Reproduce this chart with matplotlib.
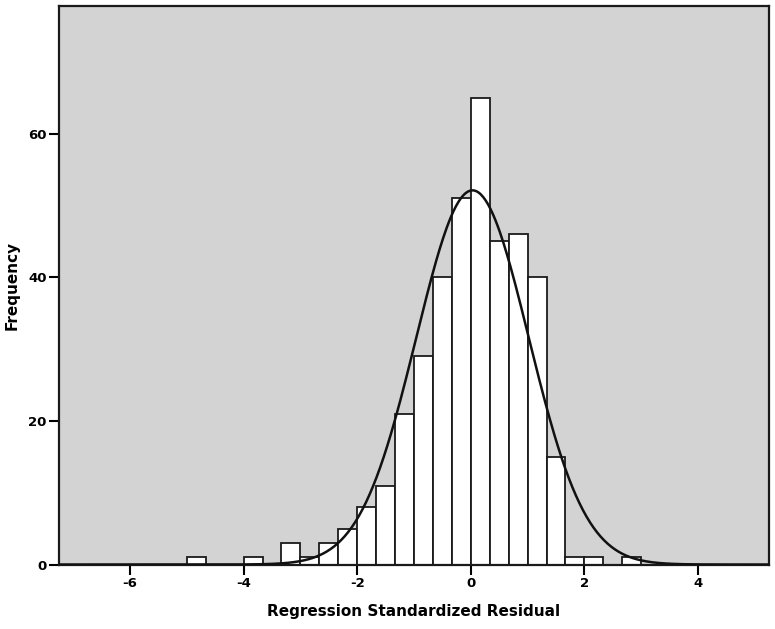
import numpy as np
import matplotlib
matplotlib.use("Agg")
import matplotlib.pyplot as plt

plt.rcParams["axes.unicode_minus"] = False

bin_left = [-5.0, -4.0, -10/3, -3.0, -8/3, -7/3, -2.0, -5/3, -4/3, -1.0,
            -2/3, -1/3, 0.0, 1/3, 2/3, 1.0, 4/3, 5/3, 2.0, 8/3]
counts = [1, 1, 3, 1, 3, 5, 8, 11, 21, 29,
          40, 51, 65, 45, 46, 40, 15, 1, 1, 1]
bin_width = 1/3

# normal curve parameters
mean = 0.03
std_dev = 0.99
n_total = sum(counts)

fig = plt.figure(figsize=(7.75, 6.29), dpi=100)
ax = fig.add_axes([0.0761, 0.1025, 0.9162, 0.888])
ax.set_facecolor("#d3d3d3")

ax.bar(bin_left, counts, width=bin_width, align="edge",
       color="white", edgecolor="#1a1a1a", linewidth=1.3, zorder=2)

xs = np.linspace(-7.25, 5.25, 600)
ys = n_total * bin_width / (std_dev * np.sqrt(2 * np.pi)) * np.exp(-0.5 * ((xs - mean) / std_dev) ** 2)
ax.plot(xs, ys, color="#111111", linewidth=1.8, zorder=3)

ax.set_xlim(-7.25, 5.25)
ax.set_ylim(0, 77.8)
ax.set_xticks([-6, -4, -2, 0, 2, 4])
ax.set_yticks([0, 20, 40, 60])
ax.tick_params(direction="out", length=7, width=1.5, labelsize=9.5, pad=2)
for lab in ax.get_xticklabels() + ax.get_yticklabels():
    lab.set_fontweight("bold")
for sp in ax.spines.values():
    sp.set_linewidth(1.6)
    sp.set_color("#1a1a1a")

ax.set_xlabel("Regression Standardized Residual", fontsize=11, fontweight="bold", labelpad=10)
ax.set_ylabel("Frequency", fontsize=11, fontweight="bold")
ax.yaxis.set_label_coords(-0.055, 0.5)

fig.savefig("out.png", dpi=100)
